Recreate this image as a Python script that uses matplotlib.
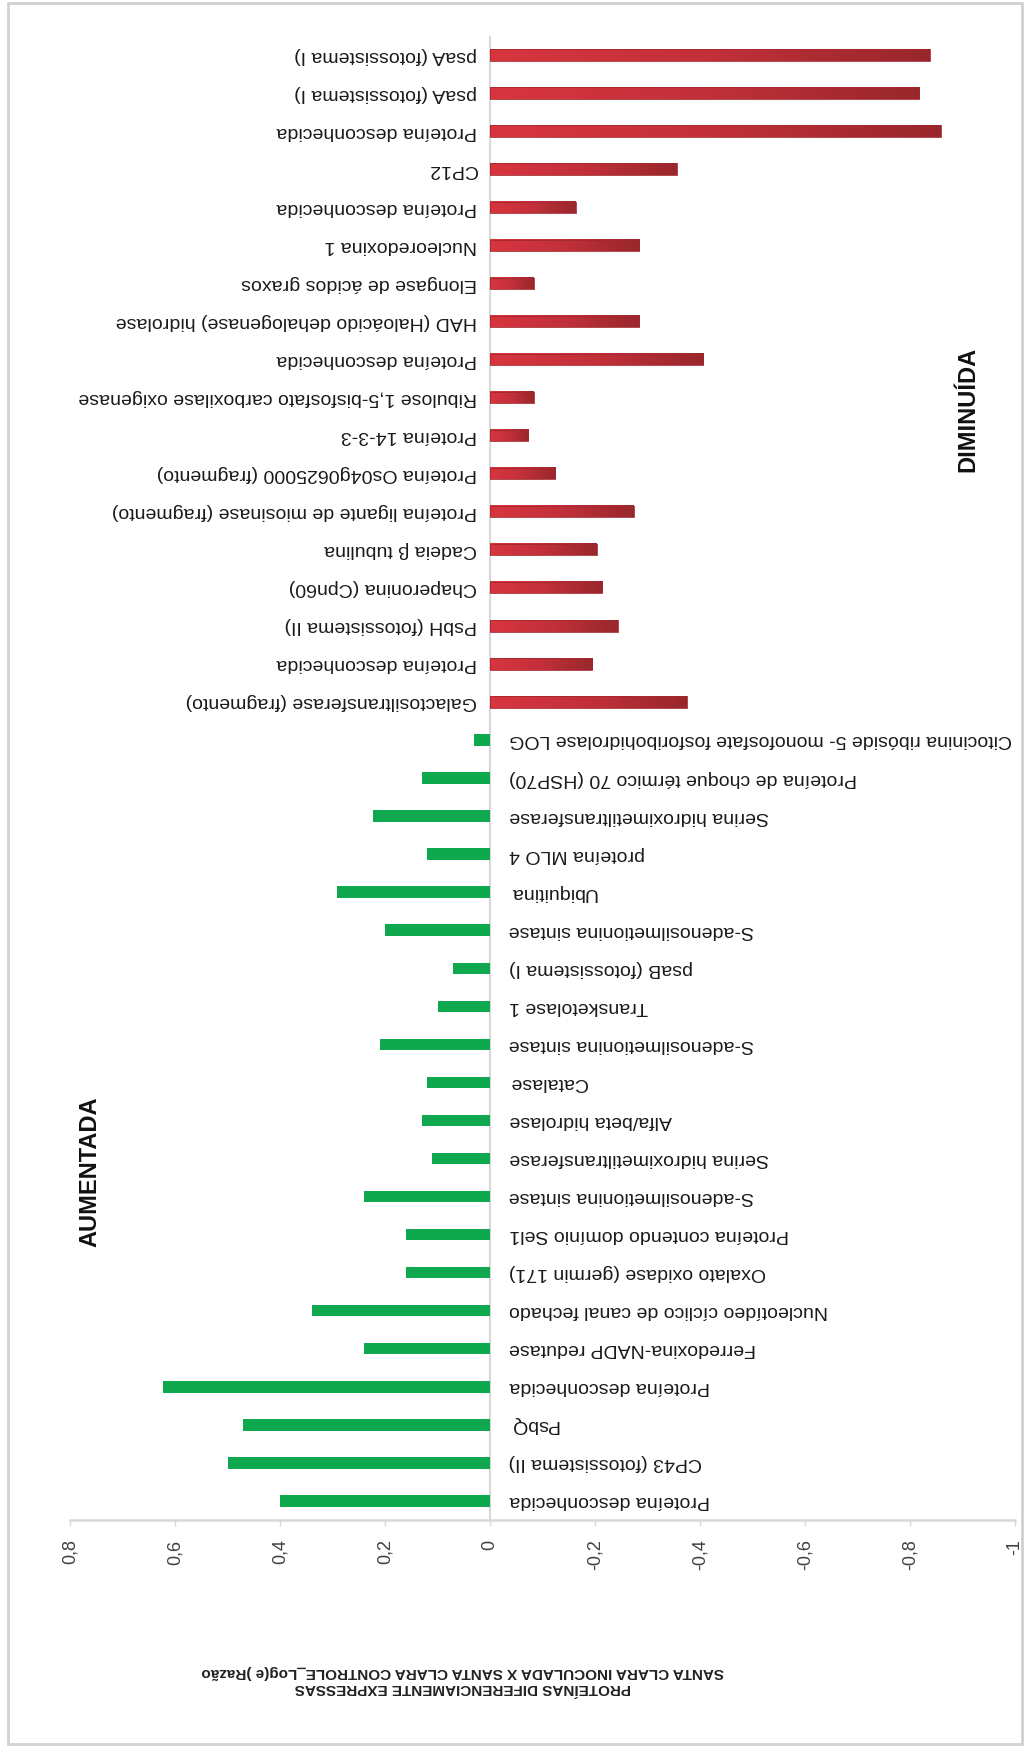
import numpy as np
import matplotlib
matplotlib.use("Agg")
import matplotlib.pyplot as plt
from matplotlib.colors import LinearSegmentedColormap
from matplotlib.patches import Rectangle

# Proteins, listed top to bottom
proteins = [
    "psaA (fotossistema I)",
    "psaA (fotossistema I)",
    "Proteína desconhecida",
    "CP12",
    "Proteína desconhecida",
    "Nucleoredoxina 1",
    "Elongase de ácidos graxos",
    "HAD (Haloácido dehalogenase) hidrolase",
    "Proteína desconhecida",
    "Ribulose 1,5-bisfosfato carboxilase oxigenase",
    "Proteína 14-3-3",
    "Proteína Os04g0625000 (fragmento)",
    "Proteína ligante de miosinase (fragmento)",
    "Cadeia β tubulina",
    "Chaperonina (Cpn60)",
    "PsbH (fotossistema II)",
    "Proteína desconhecida",
    "Galactosiltransferase (fragmento)",
    "Citocinina ribóside 5- monofosfate fosforibohidrolase LOG",
    "Proteína de choque térmico 70 (HSP70)",
    "Serina hidroximetiltransferase",
    "proteína MLO 4",
    "Ubiquitina",
    "S-adenosilmetionina sintase",
    "psaB (fotossistema I)",
    "Transketolase 1",
    "S-adenosilmetionina sintase",
    "Catalase",
    "Alfa/beta hidrolase",
    "Serina hidroximetiltransferase",
    "S-adenosilmetionina sintase",
    "Proteína contendo domínio Sel1",
    "Oxalato oxidase (germin 171)",
    "Nucleotídeo cíclico de canal fechado",
    "Ferredoxina-NADP redutase",
    "Proteína desconhecida",
    "PsbQ",
    "CP43 (fotossistema II)",
    "Proteína desconhecida",
]

# ln(ratio) inoculated / control
log_ratio = [
    -0.838, -0.818, -0.859, -0.356, -0.163, -0.284, -0.083, -0.284, -0.406,
    -0.083, -0.073, -0.124, -0.274, -0.203, -0.214, -0.243, -0.195, -0.375,
    0.03, 0.13, 0.223, 0.12, 0.292, 0.20, 0.07, 0.099, 0.21, 0.12, 0.13,
    0.11, 0.24, 0.16, 0.16, 0.34, 0.24, 0.623, 0.47, 0.50, 0.40,
]

value_ticks = [0.8, 0.6, 0.4, 0.2, 0.0, -0.2, -0.4, -0.6, -0.8, -1.0]
value_tick_labels = ["0,8", "0,6", "0,4", "0,2", "0", "-0,2", "-0,4", "-0,6", "-0,8", "-1"]

axis_title = ("PROTEÍNAS DIFERENCIAMENTE EXPRESSAS\n"
              "SANTA CLARA INOCULADA X SANTA CLARA CONTROLE_Log(e )Razão")
label_up = "AUMENTADA"
label_down = "DIMINUÍDA"

plt.rcParams["font.family"] = ["Liberation Sans", "DejaVu Sans"]

W, H = 1026, 1746
fig = plt.figure(figsize=(W / 100, H / 100), dpi=100)
fig.patch.set_facecolor("white")

# axes box in pixels: left 70, right 1015, top 36, bottom 1520
ax = fig.add_axes([70 / W, 1 - 1520 / H, 945 / W, (1520 - 36) / H])

n = len(proteins)
pos = np.arange(n)
bar_h = 0.3
green = "#10a84e"
red_cmap = LinearSegmentedColormap.from_list("redbar", ["#d8353f", "#c2303a", "#98272b"])
grad = np.linspace(0, 1, 256).reshape(1, -1)

for i, v in zip(pos, log_ratio):
    if v >= 0:
        ax.barh(i, v, height=bar_h, color=green, edgecolor="none", zorder=3)
    else:
        ax.imshow(grad, cmap=red_cmap, aspect="auto", interpolation="bilinear",
                  extent=(0, v, i + bar_h / 2, i - bar_h / 2), zorder=3)
        ax.barh(i, v, height=bar_h, fill=False, edgecolor="#a3282d", linewidth=0.6, zorder=4)

# category labels, upside down, next to the zero line
for i, (name, v) in enumerate(zip(proteins, log_ratio)):
    if v >= 0:
        ax.annotate(name, xy=(0, i), xytext=(19, 0), textcoords="offset pixels",
                    rotation=180, ha="left", va="center", fontsize=14, color="#1a1a1a")
    else:
        ax.annotate(name, xy=(0, i), xytext=(-13, 0), textcoords="offset pixels",
                    rotation=180, ha="right", va="center", fontsize=14, color="#1a1a1a")

ax.set_xlim(0.8, -1.0)
ax.set_ylim(n - 0.5, -0.5)
ax.axvline(0, color="#d9d9d9", linewidth=1.5, zorder=2)

for s in ["top", "left", "right"]:
    ax.spines[s].set_visible(False)
ax.spines["bottom"].set_color("#d9d9d9")
ax.spines["bottom"].set_linewidth(1.8)

ax.set_xticks(value_ticks)
ax.set_xticklabels(value_tick_labels, rotation=90, fontsize=13, color="#404040")
ax.tick_params(axis="x", direction="out", length=4, width=1, color="#d9d9d9", pad=10)
ax.set_yticks([])

fig.text(90 / W, 1 - 1172 / H, label_up, rotation=90, ha="center", va="center",
         fontsize=17, fontweight="bold", color="#111111")
fig.text(968 / W, 1 - 409 / H, label_down, rotation=90, ha="center", va="center",
         fontsize=17, fontweight="bold", color="#111111")

fig.text(463 / W, 1 - 1680 / H, axis_title, rotation=180, ha="center", va="center",
         multialignment="center", fontsize=11, fontweight="bold", linespacing=1.1,
         color="#222222")

# light frame around the whole chart
fig.patches.append(Rectangle((8 / W, 2 / H), 1014 / W, 1741 / H, transform=fig.transFigure,
                             fill=False, edgecolor="#d0d0d0", linewidth=2))

fig.savefig("out.png", dpi=100, facecolor="white")
